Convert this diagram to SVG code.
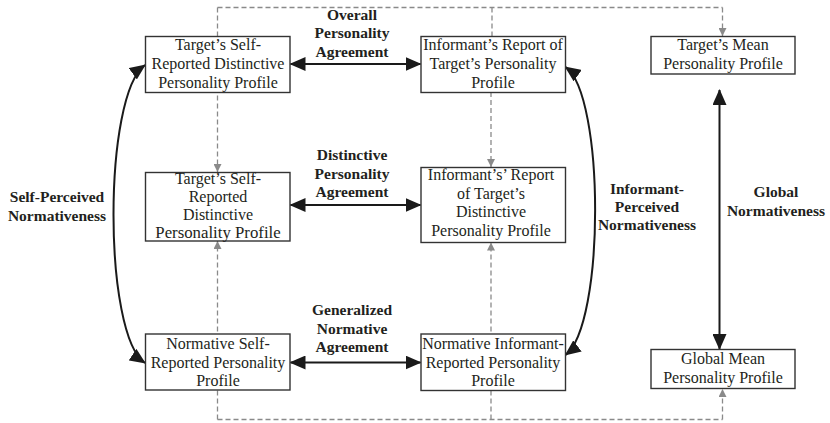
<svg xmlns="http://www.w3.org/2000/svg" width="830" height="423" viewBox="0 0 830 423">
<style>
.box{fill:#fff;stroke:#333;stroke-width:1.4}
.t{font-family:"Liberation Serif","Times New Roman",serif;font-size:16px;fill:#231f20;text-anchor:middle}
.b{font-family:"Liberation Serif","Times New Roman",serif;font-size:15.5px;font-weight:bold;fill:#231f20;text-anchor:middle}
.dash{fill:none;stroke:#8a8a8a;stroke-width:1.3;stroke-dasharray:5,3}
.arr{fill:none;stroke:#1a1a1a;stroke-width:2}
</style>
<defs>
<marker id="big" markerUnits="userSpaceOnUse" markerWidth="16" markerHeight="14" refX="15" refY="7" orient="auto-start-reverse">
<path d="M0,0 L16,7 L0,14 z" fill="#1a1a1a"/>
</marker>
<marker id="sm" markerUnits="userSpaceOnUse" markerWidth="8" markerHeight="8" refX="8" refY="4" orient="auto">
<path d="M0,0 L8,4 L0,8 z" fill="#8a8a8a"/>
</marker>
</defs>
<g id="connectors">
<path class="dash" d="M217.5,7.5 H722.5"/>
<path class="dash" d="M217.5,7.5 V172" marker-end="url(#sm)"/>
<path class="dash" d="M492,7.5 V36"/>
<path class="dash" d="M491,92 V167" marker-end="url(#sm)"/>
<path class="dash" d="M722.5,7.5 V36" marker-end="url(#sm)"/>
<path class="dash" d="M217.5,419.5 H722.5"/>
<path class="dash" d="M722.5,419.5 V389" marker-end="url(#sm)"/>
<path class="dash" d="M217.5,419.5 V241" marker-end="url(#sm)"/>
<path class="dash" d="M491,419.5 V242.5" marker-end="url(#sm)"/>
<path class="arr" d="M290.5,64 H420.5" marker-start="url(#big)" marker-end="url(#big)"/>
<path class="arr" d="M290.5,205 H420.5" marker-start="url(#big)" marker-end="url(#big)"/>
<path class="arr" d="M290.5,362.5 H420.5" marker-start="url(#big)" marker-end="url(#big)"/>
<path class="arr" stroke-width="1.6" d="M145,65 C103,95 103,335 145,363" marker-start="url(#big)" marker-end="url(#big)"/>
<path class="arr" stroke-width="1.6" d="M565.5,67 C605,95 605,325 565.5,355" marker-start="url(#big)" marker-end="url(#big)"/>
<path class="arr" stroke-width="3" d="M719.5,90 V349" marker-start="url(#big)" marker-end="url(#big)"/>
</g>
<g id="n1">
<rect class="box" x="145.5" y="36.5" width="144.5" height="56"/>
<text class="t" x="218" y="50">Target’s Self-</text>
<text class="t" x="218" y="69">Reported Distinctive</text>
<text class="t" x="218" y="88">Personality Profile</text>
</g>
<g id="n2">
<rect class="box" x="421" y="36.5" width="144.5" height="56"/>
<text class="t" x="493" y="50">Informant’s Report of</text>
<text class="t" x="493" y="69">Target’s Personality</text>
<text class="t" x="493" y="88">Profile</text>
</g>
<g id="n3">
<rect class="box" x="651" y="36.5" width="144" height="37.5"/>
<text class="t" x="723" y="50">Target’s Mean</text>
<text class="t" x="723" y="69">Personality Profile</text>
</g>
<g id="n4">
<rect class="box" x="145.5" y="172.5" width="144.5" height="68.5"/>
<text class="t" x="218" y="184">Target’s Self-</text>
<text class="t" x="218" y="202">Reported</text>
<text class="t" x="218" y="220">Distinctive</text>
<text class="t" x="218" y="237.5" style="font-size:16.8px">Personality Profile</text>
</g>
<g id="n5">
<rect class="box" x="421" y="167.5" width="144.5" height="75"/>
<text class="t" x="491" y="179.5">Informant’s’ Report</text>
<text class="t" x="491" y="198.5">of Target’s</text>
<text class="t" x="491" y="217">Distinctive</text>
<text class="t" x="491" y="236">Personality Profile</text>
</g>
<g id="n6">
<rect class="box" x="145.5" y="334" width="144.5" height="56"/>
<text class="t" x="218" y="348.5">Normative Self-</text>
<text class="t" x="218" y="367.5">Reported Personality</text>
<text class="t" x="218" y="386">Profile</text>
</g>
<g id="n7">
<rect class="box" x="421" y="334" width="144.5" height="56.5"/>
<text class="t" x="493" y="348.5">Normative Informant-</text>
<text class="t" x="493" y="367.5">Reported Personality</text>
<text class="t" x="493" y="386">Profile</text>
</g>
<g id="n8">
<rect class="box" x="651" y="349.5" width="144" height="39"/>
<text class="t" x="723" y="364">Global Mean</text>
<text class="t" x="723" y="383">Personality Profile</text>
</g>
<g id="labels">
<text class="b" x="352" y="19.5">Overall</text>
<text class="b" x="352" y="38">Personality</text>
<text class="b" x="352" y="56.5">Agreement</text>
<text class="b" x="352" y="160">Distinctive</text>
<text class="b" x="352" y="178.5">Personality</text>
<text class="b" x="352" y="197">Agreement</text>
<text class="b" x="352" y="315">Generalized</text>
<text class="b" x="352" y="333.5">Normative</text>
<text class="b" x="352" y="352">Agreement</text>
<text class="b" x="57" y="202">Self-Perceived</text>
<text class="b" x="57" y="220.5">Normativeness</text>
<text class="b" x="647" y="193.5">Informant-</text>
<text class="b" x="647" y="212">Perceived</text>
<text class="b" x="647" y="230">Normativeness</text>
<text class="b" x="776" y="197">Global</text>
<text class="b" x="776" y="215.5">Normativeness</text>
</g>
</svg>
